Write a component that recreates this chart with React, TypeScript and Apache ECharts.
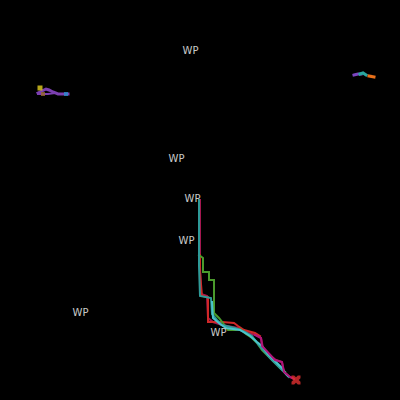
import React, { useEffect, useRef } from "react";
import * as echarts from "echarts";

// Waypoint label positions (map units)
const waypoints: [number, number][] = [
  [191, 51], [177, 159], [193, 199], [187, 241], [81, 313], [219, 333],
];

// Finish marker
const finish: [number, number][] = [[296, 380]];

// Main tracks
const trackCrimson: [number, number][] = [
  [200, 200], [200, 266], [201, 294], [207, 296], [208, 318], [213, 322],
  [222, 325], [238, 328], [248, 333], [256, 335], [261, 338], [263, 348], [269, 355],
  [276, 360], [282, 362], [284, 372], [290, 377], [294, 379],
];
const trackTeal: [number, number][] = [
  [199, 200], [199, 266], [200, 296], [211, 298], [212, 314], [217, 320],
  [222, 325], [235, 328], [245, 332], [252, 336], [258, 344], [264, 351], [270, 358],
  [277, 365], [284, 372], [289, 377],
];
const trackGreen: [number, number][] = [
  [199, 255], [203, 258], [203, 272], [209, 272], [209, 280], [214, 280], [214, 313],
  [219, 318], [223, 323], [228, 330], [236, 330], [240, 329], [246, 334], [252, 338],
  [257, 343], [262, 350], [268, 356], [274, 362], [280, 368], [285, 372],
];
const trackRed: [number, number][] = [
  [200, 255], [200, 272], [202, 296], [208, 297], [208, 322], [222, 322], [234, 323],
  [238, 326], [244, 330], [255, 333], [260, 336],
];
const trackCyan: [number, number][] = [
  [212, 302], [213, 318], [220, 324], [226, 328], [240, 330], [250, 336], [257, 342],
  [262, 346], [268, 354], [276, 362], [282, 368], [286, 374], [288, 376],
];
const trackMagenta: [number, number][] = [
  [255, 335], [261, 338], [262, 346], [275, 360], [282, 362], [284, 372], [290, 377],
  [294, 379],
];

// Small clusters
const clusterAPurple: [number, number][] = [
  [38, 93], [42, 91], [46, 89], [49, 90], [53, 92], [58, 94], [68, 94],
];
const clusterAPurple2: [number, number][] = [[38, 94], [48, 94], [56, 93]];
const clusterAYellow: [number, number][] = [[40, 88]];
const clusterABrown: [number, number][] = [[43, 94]];
const clusterABlue: [number, number][] = [[66, 94]];
const clusterBPurple: [number, number][] = [[354, 75], [358, 74], [361, 74]];
const clusterBTeal: [number, number][] = [[360, 74], [363, 73], [366, 75]];
const clusterBOrange: [number, number][] = [[369, 76], [374, 77]];

function line(data: [number, number][], color: string, width = 2) {
  return {
    type: "line",
    data,
    showSymbol: false,
    symbol: "none",
    smooth: false,
    lineStyle: { color, width, cap: "square", join: "miter" },
    z: 2,
  };
}

function dots(data: [number, number][], color: string, size = 4) {
  return {
    type: "scatter",
    data,
    symbol: "rect",
    symbolSize: size,
    itemStyle: { color },
    z: 3,
  };
}

export default function App() {
  const ref = useRef<HTMLDivElement>(null);
  useEffect(() => {
    if (!ref.current) return;
    const chart = echarts.init(ref.current, undefined, { renderer: "svg" });
    chart.setOption({
      animation: false,
      backgroundColor: "#000000",
      grid: { left: 0, right: 0, top: 0, bottom: 0 },
      xAxis: { type: "value", min: 0, max: 400, show: false },
      yAxis: { type: "value", min: 0, max: 400, inverse: true, show: false },
      series: [
        line(trackCrimson, "#a5174f"),
        line(trackRed, "#d02828"),
        line(trackGreen, "#4a9a2c"),
        line(trackTeal, "#2e9a98"),
        line(trackCyan, "#4ac3cc"),
        line(trackMagenta, "#b0147a"),
        line(clusterAPurple, "#7b3fb0", 3),
        line(clusterAPurple2, "#7b3fb0", 2),
        dots(clusterAYellow, "#e3d020", 5),
        dots(clusterABrown, "#9a6a30", 4),
        dots(clusterABlue, "#2a8fd0", 4),
        line(clusterBPurple, "#7b45c0", 3),
        line(clusterBTeal, "#2aa6a0", 3),
        line(clusterBOrange, "#e8701a", 3),
        {
          type: "scatter",
          data: finish,
          symbol:
            "path://M0,0 L3,0 L5,2 L7,0 L10,0 L10,3 L8,5 L10,7 L10,10 L7,10 L5,8 L3,10 L0,10 L0,7 L2,5 L0,3 Z",
          symbolSize: 9,
          itemStyle: { color: "#e03030" },
          z: 5,
        },
        {
          type: "scatter",
          data: waypoints,
          symbolSize: 1,
          itemStyle: { color: "rgba(0,0,0,0)" },
          label: {
            show: true,
            position: [0, 0],
            align: "center",
            verticalAlign: "middle",
            formatter: "WP",
            color: "#ffffff",
            fontSize: 10,
            fontWeight: "normal",
            textBorderWidth: 0,
            fontFamily: "DejaVu Sans, sans-serif",
          },
          z: 6,
        },
      ],
    });
    return () => chart.dispose();
  }, []);
  return (
    <div
      ref={ref}
      style={{ position: "absolute", left: 0, top: 0, width: 400, height: 400 }}
    />
  );
}
